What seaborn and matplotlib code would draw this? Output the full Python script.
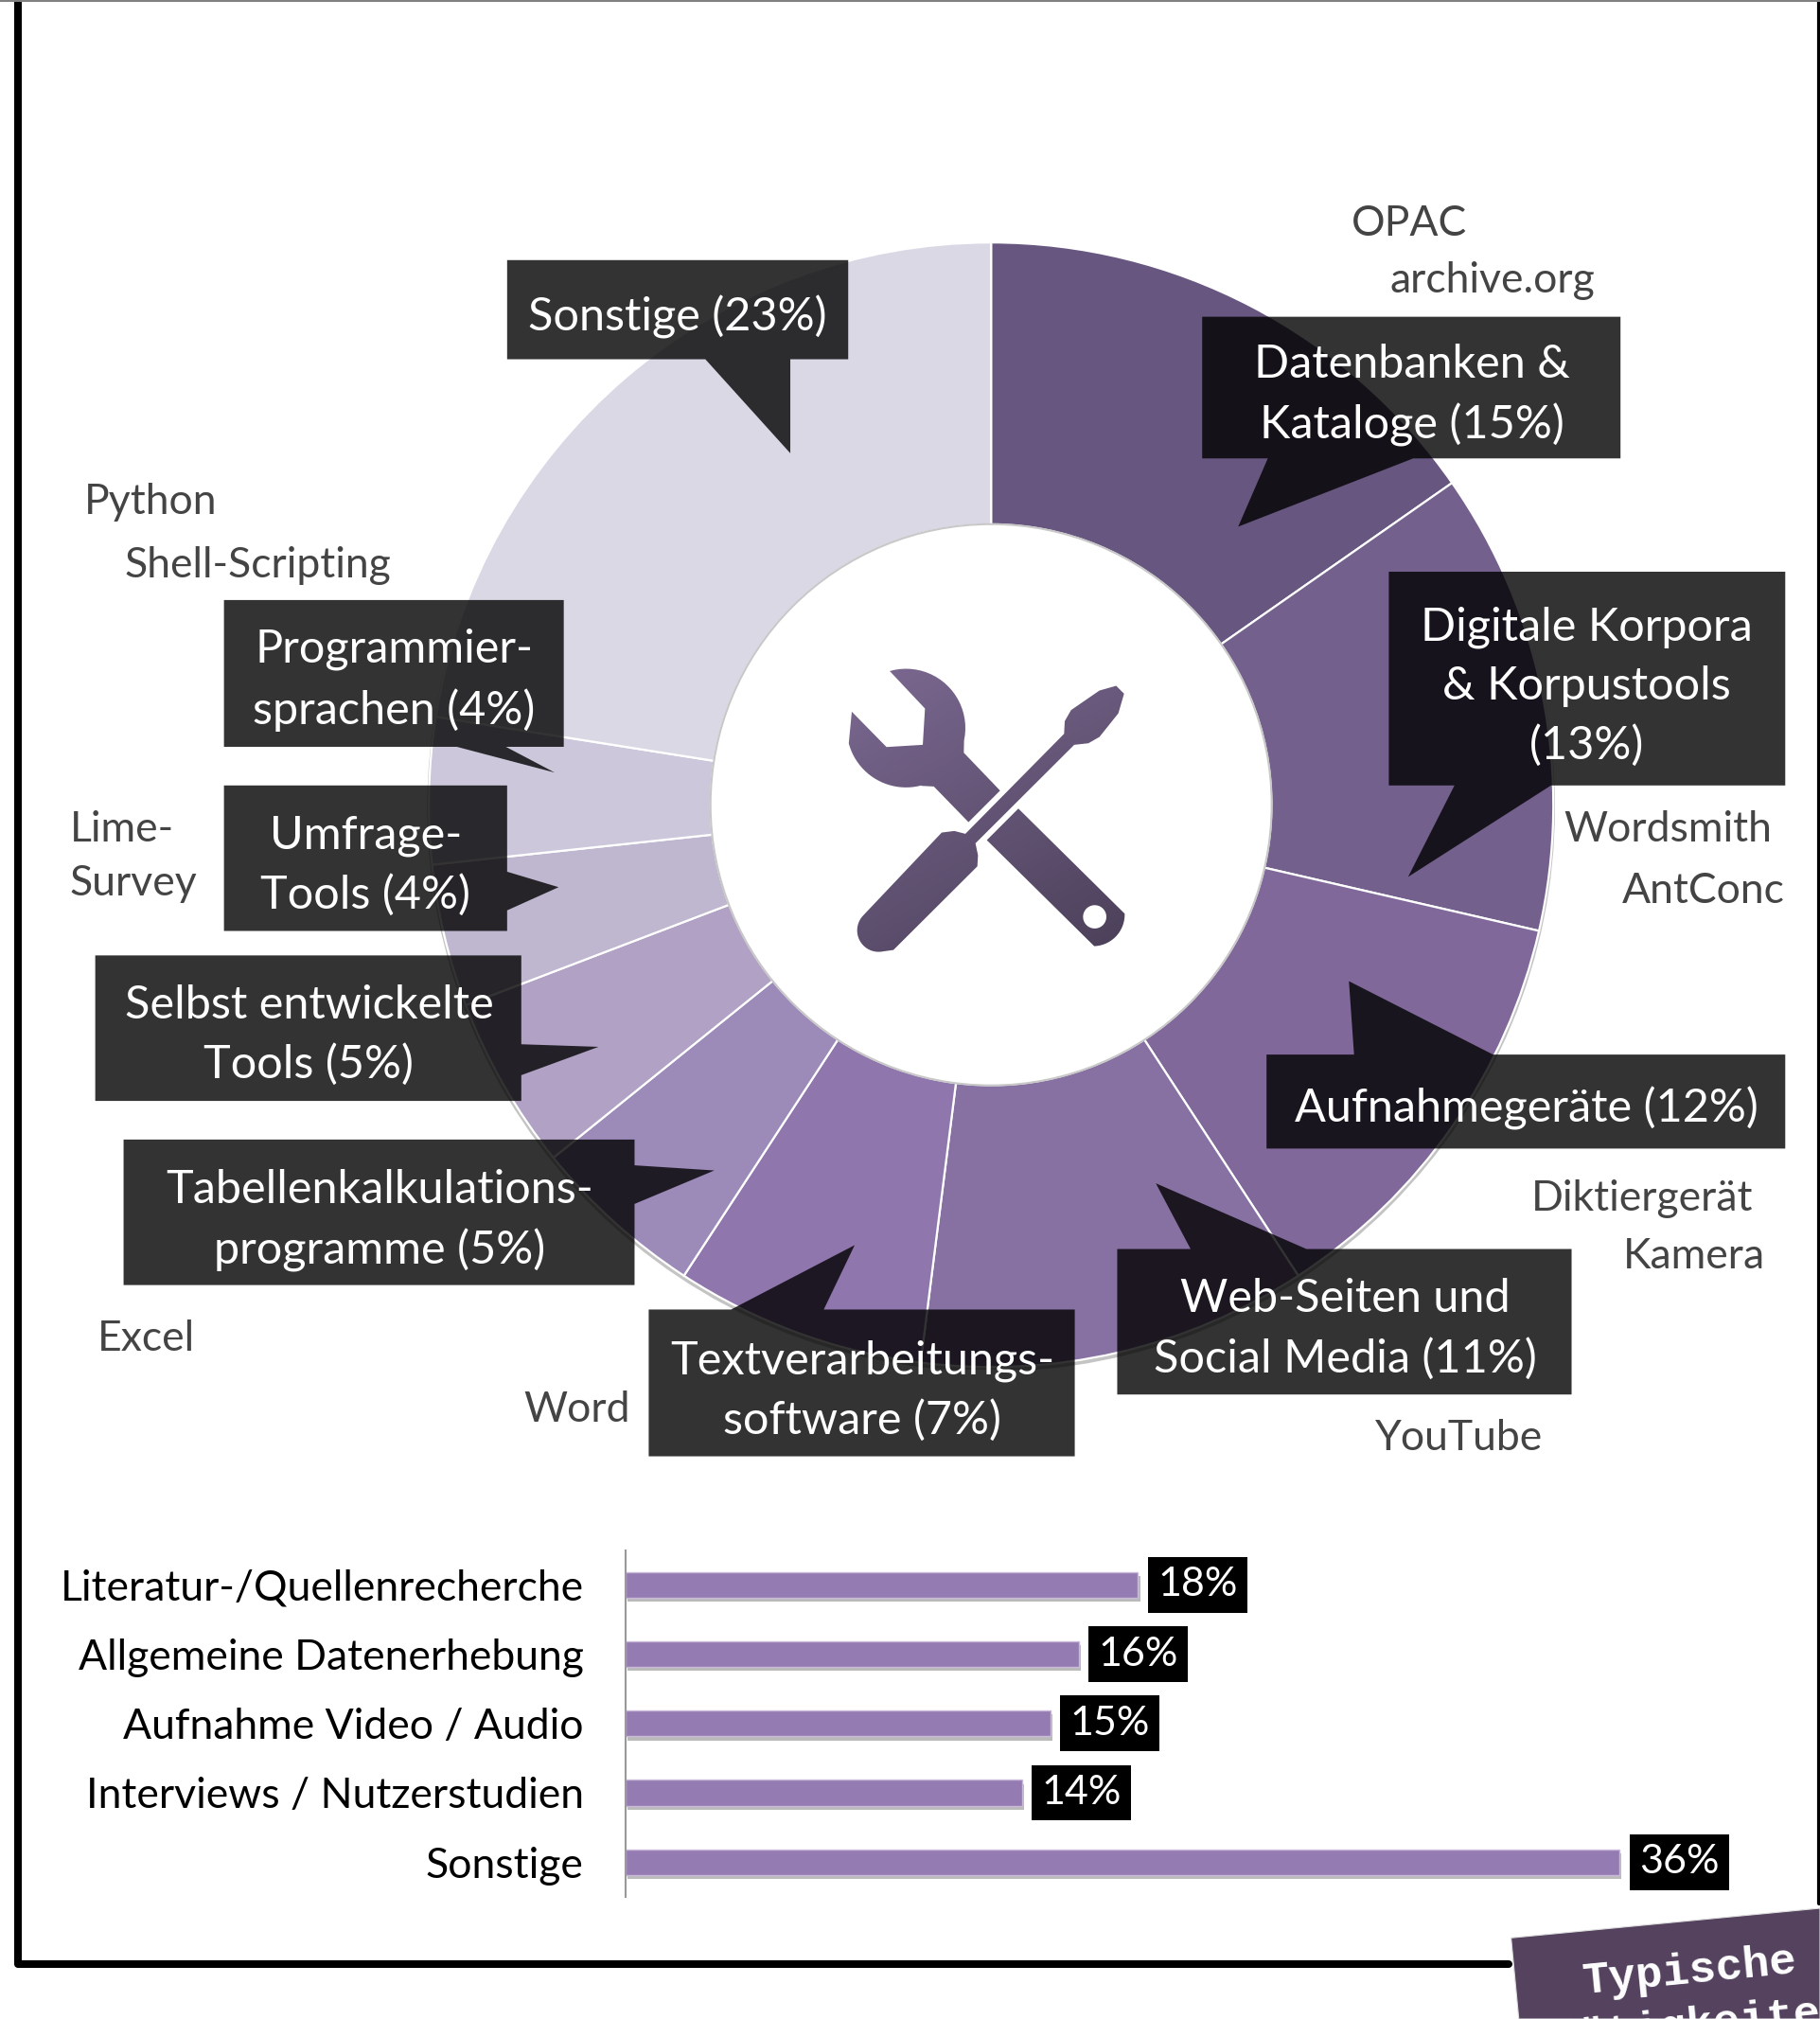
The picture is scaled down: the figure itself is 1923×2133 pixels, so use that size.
import numpy as np
import pandas as pd
import seaborn as sns
import matplotlib.pyplot as plt
import matplotlib.patheffects as pe
from matplotlib.patches import Circle, Polygon, PathPatch
from matplotlib.path import Path

# donut: tools (shares, labels as printed)
tool_shares = [15.3, 13.3, 12.2, 11.2, 7.2, 5.0, 5.0, 4.1, 4.2, 22.5]
tool_colors = ['#67567F', '#74608D', '#80699A', '#8770A2', '#8F76AC',
               '#9C8AB9', '#B1A1C4', '#BFB6CF', '#CCC7DB', '#DBD8E5']
tool_labels = ['Datenbanken &\nKataloge (15%)',
               'Digitale Korpora\n& Korpustools\n(13%)',
               'Aufnahmegeräte (12%)',
               'Web-Seiten und\nSocial Media (11%)',
               'Textverarbeitungs-\nsoftware (7%)',
               'Tabellenkalkulations-\nprogramme (5%)',
               'Selbst entwickelte\nTools (5%)',
               'Umfrage-\nTools (4%)',
               'Programmier-\nsprachen (4%)',
               'Sonstige (23%)']
example_labels = ['OPAC', 'archive.org', 'Wordsmith', 'AntConc', 'Diktiergerät',
                  'Kamera', 'YouTube', 'Word', 'Excel', 'Lime-', 'Survey',
                  'Python', 'Shell-Scripting']

# bars: activities (lengths as drawn in the picture, labels as printed)
activities = ['Literatur-/Quellenrecherche', 'Allgemeine Datenerhebung',
              'Aufnahme Video / Audio', 'Interviews / Nutzerstudien', 'Sonstige']
activity_lengths = [18.1, 16.0, 15.0, 14.0, 35.1]
activity_labels = ['18%', '16%', '15%', '14%', '36%']

sns.set_theme(style='white')
plt.rcParams['font.family'] = ['Lato', 'DejaVu Sans']

W, H = 1414, 1568
FS = 35
fig = plt.figure(figsize=(19.23, 21.33), dpi=100, facecolor='white')

# donut
cx, cy, R = 770, 625, 439
ax_pie = fig.add_axes([(cx - R) / W, 1 - (cy + R) / H, 2 * R / W, 2 * R / H], zorder=1)
ax_pie.add_patch(Circle((0, -0.005), 0.998, fc='#c4c4c4', ec='none'))
ax_pie.pie(tool_shares, colors=tool_colors, startangle=90, counterclock=False, radius=0.995,
           wedgeprops=dict(width=219 / 439, edgecolor='white', linewidth=1.6))
ax_pie.add_patch(Circle((0, 0), 218 / 439, fc='white', ec='#c8c8c8', lw=1.5))
ax_pie.set_xlim(-1, 1)
ax_pie.set_ylim(-1, 1)
ax_pie.set_aspect('equal')

# overlay in picture coordinates
ov = fig.add_axes([0, 0, 1, 1], zorder=2)
ov.set_xlim(0, W)
ov.set_ylim(H, 0)
ov.axis('off')
ov.patch.set_alpha(0)

# frame
ov.plot([14, 14, 1172], [0, 1525, 1525], color='black', lw=5.8, solid_joinstyle='round')
ov.plot([1413, 1413], [0, 1478], color='black', lw=3)
ov.plot([0, W], [0.5, 0.5], color='#808080', lw=1.5)

# callout outlines
callouts = [
    [(934, 246), (1259, 246), (1259, 356), (1098, 356), (962, 409), (985, 356), (934, 356)],
    [(1079, 444), (1387, 444), (1387, 610), (1205, 610), (1094, 681), (1130, 610), (1079, 610)],
    [(984, 819), (1052, 819), (1048, 762), (1160, 819), (1387, 819), (1387, 892), (984, 892)],
    [(868, 970), (925, 970), (898, 919), (1015, 970), (1221, 970), (1221, 1083), (868, 1083)],
    [(504, 1017), (568, 1017), (664, 967), (640, 1017), (835, 1017), (835, 1131), (504, 1131)],
    [(96, 885), (493, 885), (493, 905), (555, 909), (493, 935), (493, 998), (96, 998)],
    [(74, 742), (405, 742), (405, 811), (465, 813), (405, 835), (405, 855), (74, 855)],
    [(174, 610), (394, 610), (394, 677), (434, 689), (394, 707), (394, 723), (174, 723)],
    [(174, 466), (438, 466), (438, 580), (393, 580), (431, 600), (355, 580), (174, 580)],
    [(394, 202), (659, 202), (659, 279), (614, 279), (614, 352), (548, 279), (394, 279)],
]
callout_centers = [(1097, 307), (1233, 533), (1186, 861), (1045, 1032), (670, 1080),
                   (295, 948), (240, 804), (284, 672), (306, 528), (526, 246)]
for pts, (tx, ty), lab in zip(callouts, callout_centers, tool_labels):
    ov.add_patch(Polygon(pts, closed=True, fc='black', ec='none', alpha=0.8))
    ov.text(tx, ty, lab, color='white', fontsize=FS, ha='center', va='center',
            linespacing=1.5)

example_pos = [(1050, 174), (1080, 218), (1215, 644), (1260, 692), (1190, 931),
               (1261, 976), (1068, 1117), (407, 1095), (76, 1040), (54, 644),
               (54, 686), (65, 390), (97, 439)]
for (tx, ty), lab in zip(example_pos, example_labels):
    ov.text(tx, ty, lab, color='#444444', fontsize=32, ha='left', va='center')


# tools icon, outlines traced in a 3x crop at (760, 640)
def arc(x0, y0, r, a0, a1, n=24):
    t = np.radians(np.linspace(a0, a1, n))
    return np.column_stack([x0 + r * np.cos(t), y0 + r * np.sin(t)])


wrench_top = np.vstack([arc(592, 387, 188, -106, 12),
                        [(775, 465), (890, 585), (790, 685), (680, 572), (640, 570)],
                        arc(592, 387, 188, 75, 165),
                        [(420, 335), (530, 447), (645, 440), (652, 325)]])
wrench_end = np.vstack([[(948, 642), (1285, 975)], arc(1185, 978, 100, 2, 88), [(848, 742)]])
driver = np.vstack([[(1258, 253), (1283, 278), (1265, 340), (1205, 415), (1170, 435), (1125, 440),
                     (812, 752), (820, 790), (818, 825), (552, 1090)],
                    arc(505, 1028, 68, 85, 225),
                    [(705, 718), (745, 713), (780, 722), (1093, 405),
                     (1095, 365), (1115, 330), (1205, 268)]])
hole = arc(1190, 985, 37, 360, 0, n=40)


def to_view(p):
    return (np.asarray(p, dtype=float) / 3 + [760, 640]) * W / 1923


verts, codes = [], []
for part in [wrench_top, wrench_end, hole, driver]:
    v = to_view(part)
    verts.extend(v.tolist() + [v[0].tolist()])
    codes.extend([Path.MOVETO] + [Path.LINETO] * (len(v) - 1) + [Path.CLOSEPOLY])
icon_path = Path(verts, codes)
gx, gy = np.meshgrid(np.linspace(0, 1, 100), np.linspace(0, 1, 100))
cmap = sns.blend_palette(['#7D6A93', '#4A3F58'], as_cmap=True)
img = ov.imshow(0.35 * gx + 0.65 * gy, cmap=cmap, extent=(650, 880, 745, 515), aspect='auto', zorder=3)
clip = PathPatch(icon_path, fc='none', ec='none', transform=ov.transData)
ov.add_patch(clip)
img.set_clip_path(clip)
ov.set_xlim(0, W)
ov.set_ylim(H, 0)

# corner tag
tag = [(1174, 1505), (W, 1482), (W, H), (1180, H)]
ov.add_patch(Polygon(tag, closed=True, fc='#54425F', ec='#dddddd', lw=0.8))
ov.text(1313, 1531, 'Typische', color='white', fontsize=34, family='Liberation Mono',
        weight='bold', rotation=5.6, ha='center', va='center', rotation_mode='anchor')
ov.text(1321, 1573, 'Tätigkeiten', color='white', fontsize=34, family='Liberation Mono',
        weight='bold', rotation=5.6, ha='center', va='center', rotation_mode='anchor')

# bars
df = pd.DataFrame({'activity': activities, 'length': activity_lengths})
ax_bar = fig.add_axes([486 / W, 1 - 1473 / H, (W - 486) / W, 269 / H], zorder=4)
ax_bar.patch.set_alpha(0)
sns.barplot(data=df, y='activity', x='length', orient='h', color='#947BB1', saturation=1,
            width=0.37, edgecolor='#C9BAD9', linewidth=1, ax=ax_bar)
for bar in ax_bar.patches:
    bar.set_path_effects([pe.SimplePatchShadow(offset=(1.5, -3), shadow_rgbFace='#777777', alpha=0.5),
                          pe.Normal()])
ax_bar.bar_label(ax_bar.containers[0], labels=activity_labels, padding=15, color='white',
                 fontsize=31, bbox=dict(boxstyle='square,pad=0.24', fc='black', ec='none'))
ax_bar.set_xlim(0, (W - 486) / 22)
ax_bar.set_ylim(4.5, -0.5)
ax_bar.set_xlabel('')
ax_bar.set_ylabel('')
ax_bar.set_xticks([])
ax_bar.tick_params(axis='y', length=0, pad=32, labelsize=32, labelcolor='black')
for label in ax_bar.get_yticklabels():
    label.set_va('center_baseline')
sns.despine(ax=ax_bar, top=True, right=True, bottom=True)
ax_bar.spines['left'].set_color('#999999')
ax_bar.spines['left'].set_linewidth(1.5)

fig.savefig('out.png', dpi=100)
